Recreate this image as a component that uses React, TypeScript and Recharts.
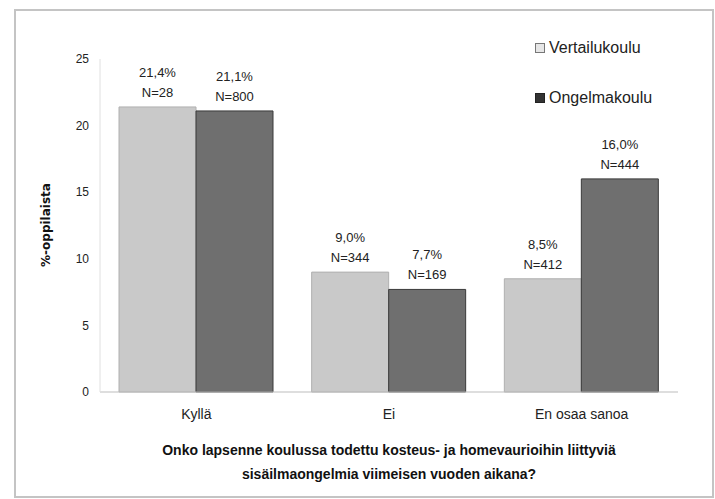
import React from 'react';
import { BarChart, Bar, XAxis, YAxis, LabelList } from 'recharts';

const categories = ['Kyllä', 'Ei', 'En osaa sanoa'];
const vertailu = [21.4, 9.0, 8.5];
const ongelma = [21.1, 7.7, 16.0];
const vertailuN = [28, 344, 412];
const ongelmaN = [800, 169, 444];
const yTicks = [0, 5, 10, 15, 20, 25];

const data = categories.map((name, i) => ({
  name,
  vert: vertailu[i],
  ong: ongelma[i]
}));

const font = "'Liberation Sans Narrow', 'Arial Narrow', 'Liberation Sans', Arial, sans-serif";
const lightFill = '#c9c9c9';
const darkFill = '#6f6f6f';

const fmt = (v: number) => v.toFixed(1).replace('.', ',') + '%';

function makeLabel(counts: number[]) {
  return (props: any) => {
    const { x, y, width, value, index } = props;
    const cx = x + width / 2;
    return (
      <g fontFamily={font} fontSize={13} fill="#222" textAnchor="middle">
        <text x={cx} y={y - 30}>{fmt(value)}</text>
        <text x={cx} y={y - 10}>N={counts[index]}</text>
      </g>
    );
  };
}

function LegendBox() {
  const items = [
    { label: 'Vertailukoulu', fill: '#e6e6e6', stroke: '#777' },
    { label: 'Ongelmakoulu', fill: '#333', stroke: '#222' }
  ];
  return (
    <div style={{ position: 'absolute', left: 535, top: 36, fontFamily: font, fontSize: 16, color: '#222' }}>
      {items.map((it) => (
        <div key={it.label} style={{ display: 'flex', alignItems: 'center', height: 24, marginBottom: 26 }}>
          <span
            style={{
              display: 'inline-block',
              width: 8,
              height: 8,
              background: it.fill,
              border: `1px solid ${it.stroke}`,
              marginRight: 4
            }}
          />
          {it.label}
        </div>
      ))}
    </div>
  );
}

export default function App() {
  return (
    <div style={{ position: 'fixed', left: 0, top: 0, width: 715, height: 499, background: '#fff' }}>
      <div
        style={{
          position: 'absolute',
          left: 14,
          top: 9,
          width: 696,
          height: 485,
          border: '2px solid #c4c4c4'
        }}
      />
      <BarChart
        width={715}
        height={499}
        data={data}
        margin={{ top: 59, right: 37, bottom: 77, left: 60 }}
        barCategoryGap={19}
        barGap={0}
        style={{ position: 'absolute', left: 0, top: 0 }}
      >
        <XAxis
          dataKey="name"
          axisLine={{ stroke: '#bdbdbd' }}
          tickLine={false}
          tickSize={0}
          tickMargin={17}
          tick={{ fill: '#222', fontSize: 14, fontFamily: font }}
          height={30}
        />
        <YAxis
          domain={[0, 25]}
          ticks={yTicks}
          width={40}
          axisLine={{ stroke: '#e0e0e0' }}
          tickLine={false}
          tickSize={6}
          tickMargin={5}
          tick={{ fill: '#222', fontSize: 12, fontFamily: font }}
          label={{
            content: () => (
              <text
                x={50}
                y={225}
                transform="rotate(-90 50 225)"
                textAnchor="middle"
                fontFamily="'DejaVu Sans', Verdana, sans-serif"
                fontWeight="bold"
                fontSize={12}
                fill="#111"
              >
                %-oppilaista
              </text>
            )
          }}
        />
        <Bar dataKey="vert" name="Vertailukoulu" fill={lightFill} stroke="#b0b0b0" isAnimationActive={false}>
          <LabelList dataKey="vert" content={makeLabel(vertailuN)} />
        </Bar>
        <Bar dataKey="ong" name="Ongelmakoulu" fill={darkFill} stroke="#3a3a3a" isAnimationActive={false}>
          <LabelList dataKey="ong" content={makeLabel(ongelmaN)} />
        </Bar>
      </BarChart>
      <LegendBox />
      <div
        style={{
          position: 'absolute',
          left: 100,
          width: 578,
          top: 438,
          textAlign: 'center',
          fontFamily: font,
          fontWeight: 'bold',
          fontSize: 14,
          lineHeight: '24px',
          color: '#111'
        }}
      >
        Onko lapsenne koulussa todettu kosteus- ja homevaurioihin liittyviä
        <br />
        sisäilmaongelmia viimeisen vuoden aikana?
      </div>
    </div>
  );
}
